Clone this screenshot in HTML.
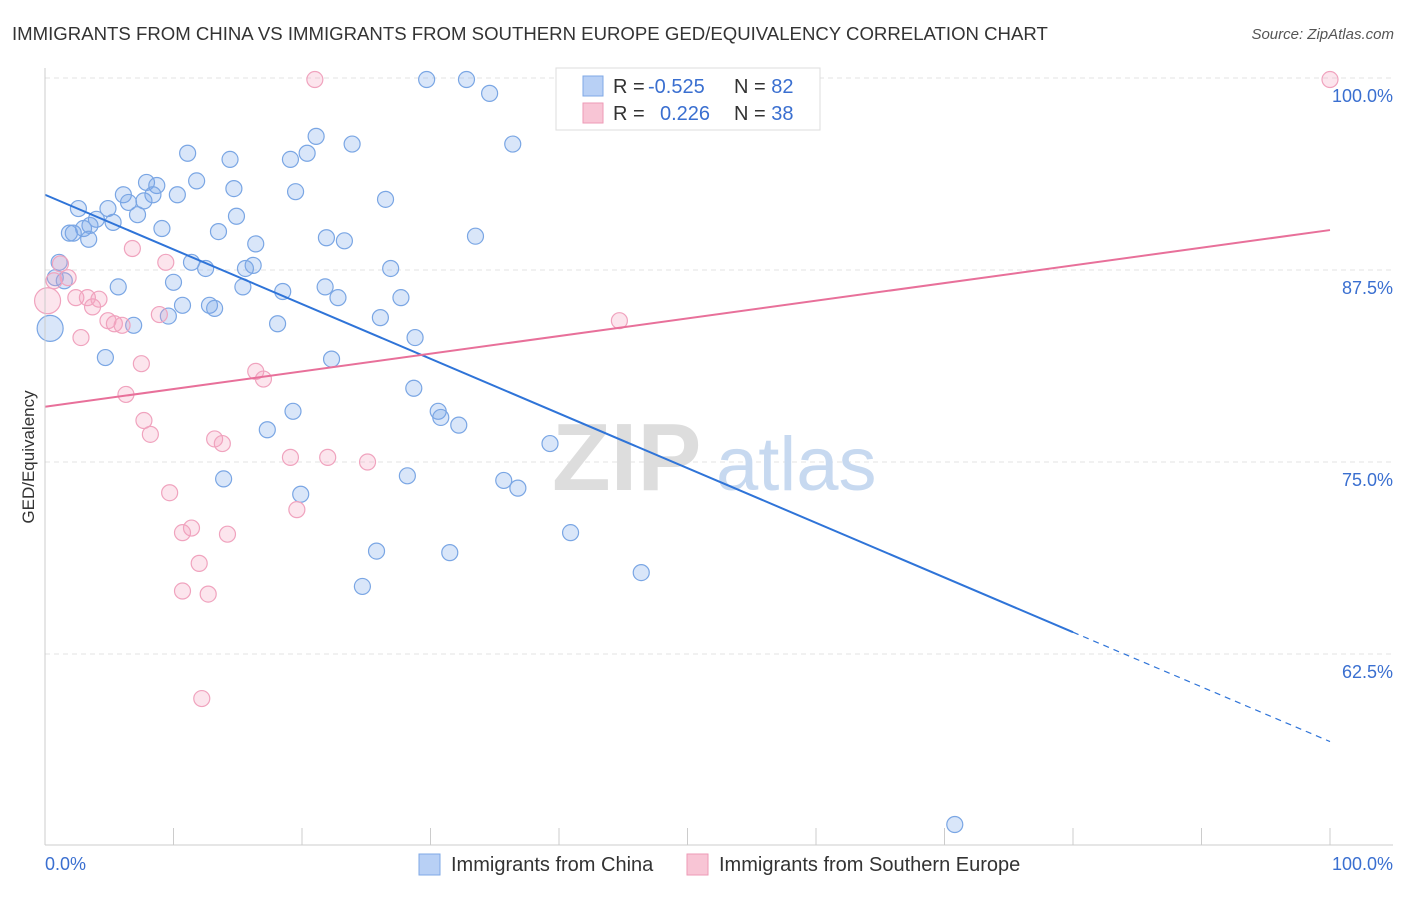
<!DOCTYPE html>
<html><head><meta charset="utf-8"><style>
body{margin:0;background:#fff;font-family:"Liberation Sans",sans-serif;}
svg text{font-family:"Liberation Sans",sans-serif;}
</style></head><body>
<svg id="chart" width="1406" height="892" xmlns="http://www.w3.org/2000/svg">
<text x="12" y="40" font-size="18.6" fill="#333">IMMIGRANTS FROM CHINA VS IMMIGRANTS FROM SOUTHERN EUROPE GED/EQUIVALENCY CORRELATION CHART</text>
<text x="1394" y="39" font-size="15" fill="#555" font-style="italic" text-anchor="end">Source: ZipAtlas.com</text>
<g id="grid"></g>
<g>
<text x="552" y="490" font-size="96" font-family="Liberation Serif" fill="#ddd" font-weight="bold">ZIP</text>
<text x="716" y="490" font-size="76" fill="#c7d9f0">atlas</text>
</g>
<text transform="translate(34,457) rotate(-90)" font-size="17" fill="#333" text-anchor="middle">GED/Equivalency</text>
<g id="pts"></g>
<g id="lines"></g>
<g id="ticks"></g>
<g>
<rect x="556" y="68" width="264" height="62" fill="#fff" stroke="#ddd"/>
<rect x="583" y="76" width="20" height="20" fill="#b8d0f5" stroke="#7fa8e6"/>
<rect x="583" y="103" width="20" height="20" fill="#f8c5d5" stroke="#ee9ab6"/>
<text x="613" y="93" font-size="20" fill="#333">R = <tspan x="648" fill="#3a6fd0">-0.525</tspan><tspan x="734">N = </tspan><tspan fill="#3a6fd0">82</tspan></text>
<text x="613" y="120" font-size="20" fill="#333">R = <tspan x="660" fill="#3a6fd0">0.226</tspan><tspan x="734">N = </tspan><tspan fill="#3a6fd0">38</tspan></text>
</g>
<g>
<rect x="419" y="854" width="21" height="21" fill="#b8d0f5" stroke="#7fa8e6"/>
<text x="451" y="871" font-size="20" fill="#333">Immigrants from China</text>
<rect x="687" y="854" width="21" height="21" fill="#f8c5d5" stroke="#ee9ab6"/>
<text x="719" y="871" font-size="20" fill="#333">Immigrants from Southern Europe</text>
</g>
<text x="45" y="870" font-size="18" fill="#3a6fd0">0.0%</text>
<text x="1393" y="870" font-size="18" fill="#3a6fd0" text-anchor="end">100.0%</text>
</svg>
<script>
const chinaX=[29.7,32.8,34.6,36.4,23.9,21.1,20.4,19.1,11.1,14.4,7.9,8.7,11.8,14.7,19.5,26.5,6.1,8.4,10.3,7.7,6.5,2.6,4.9,7.2,14.9,4.0,5.3,3.5,3.0,1.9,2.2,9.1,13.5,21.9,23.3,33.5,3.4,16.4,11.4,12.5,16.2,15.6,26.9,1.1,0.8,1.5,10.0,5.7,15.4,18.5,21.8,22.8,27.7,10.7,12.8,13.2,9.6,26.1,18.1,6.9,0.4,28.8,4.7,22.3,28.7,19.3,30.6,30.8,32.2,17.3,39.3,28.2,13.9,35.7,36.8,19.9,40.9,25.8,31.5,46.4,24.7,70.8];
const chinaY=[99.9,99.9,99.0,95.7,95.7,96.2,95.1,94.7,95.1,94.7,93.2,93.0,93.3,92.8,92.6,92.1,92.4,92.4,92.4,92.0,91.9,91.5,91.5,91.1,91.0,90.8,90.6,90.4,90.2,89.9,89.9,90.2,90.0,89.6,89.4,89.7,89.5,89.2,88.0,87.6,87.8,87.6,87.6,88.0,87.0,86.8,86.7,86.4,86.4,86.1,86.4,85.7,85.7,85.2,85.2,85.0,84.5,84.4,84.0,83.9,83.7,83.1,81.8,81.7,79.8,78.3,78.3,77.9,77.4,77.1,76.2,74.1,73.9,73.8,73.3,72.9,70.4,69.2,69.1,67.8,66.9,51.4];
const seX=[21.0,100,1.2,1.8,0.7,0.2,2.4,3.3,4.2,3.7,4.9,5.4,6.0,6.8,9.4,2.8,8.9,7.5,44.7,16.4,17.0,6.3,7.7,8.2,13.2,13.8,19.1,22.0,25.1,9.7,11.4,10.7,14.2,19.6,12.0,10.7,12.7,12.2];
const seY=[99.9,99.9,87.9,87.0,86.8,85.5,85.7,85.7,85.6,85.1,84.2,84.0,83.9,88.9,88.0,83.1,84.6,81.4,84.2,80.9,80.4,79.4,77.7,76.8,76.5,76.2,75.3,75.3,75.0,73.0,70.7,70.4,70.3,71.9,68.4,66.6,66.4,59.6];
const yTicks=[100,87.5,75,62.5];
const yTickLabels=["100.0%","87.5%","75.0%","62.5%"];
const xTicks=[0,10,20,30,40,50,60,70,80,90,100];
const chinaTrend=[92.4,-0.356];
const seTrend=[78.6,0.115];
const chinaSolidEnd=80;

const NS="http://www.w3.org/2000/svg";
const X=v=>45+v*12.85;
const Y=v=>78+(100-v)*15.36;
function mk(tag,attrs,parent){const e=document.createElementNS(NS,tag);for(const k in attrs)e.setAttribute(k,attrs[k]);parent.appendChild(e);return e;}
const grid=document.getElementById('grid');
yTicks.forEach((t,i)=>{
 const l=mk('line',{x1:45,x2:1393,y1:Y(t),y2:Y(t),stroke:'#e3e3e3','stroke-dasharray':'5,4'},grid);
 
 
 const tx=mk('text',{x:1393,y:Y(t)+24,'font-size':18,fill:'#3a6fd0','text-anchor':'end'},grid);
 tx.textContent=yTickLabels[i];
 
 
});
const ticks=document.getElementById('ticks');
mk('line',{x1:45,x2:45,y1:68,y2:845,stroke:'#ccc'},ticks);
mk('line',{x1:45,x2:1393,y1:845,y2:845,stroke:'#ccc'},ticks);
xTicks.forEach(t=>{
 const l=mk('line',{x1:X(t),x2:X(t),y1:828,y2:845,stroke:'#ccc'},ticks);
 
 
});
const pts=document.getElementById('pts');
chinaX.forEach((x,i)=>{
 const big=(x<0.5&&chinaY[i]<84);
 const c=mk('circle',{cx:X(x),cy:Y(chinaY[i]),r:big?13:8,fill:'rgba(120,165,235,0.28)',stroke:'#7aa6e4','stroke-width':1.2},pts);
 
 
});
seX.forEach((x,i)=>{
 const big=(x<0.3);
 const c=mk('circle',{cx:X(x),cy:Y(seY[i]),r:big?13:8,fill:'rgba(245,160,190,0.28)',stroke:'#f0a3be','stroke-width':1.2},pts);
 
 
});
const lines=document.getElementById('lines');
const cf=x=>chinaTrend[0]+chinaTrend[1]*x, sf=x=>seTrend[0]+seTrend[1]*x;
let l1=mk('line',{x1:X(0),y1:Y(cf(0)),x2:X(chinaSolidEnd),y2:Y(cf(chinaSolidEnd)),stroke:'#2f74d8','stroke-width':2},lines);


let l2=mk('line',{x1:X(chinaSolidEnd),y1:Y(cf(chinaSolidEnd)),x2:X(100),y2:Y(cf(100)),stroke:'#2f74d8','stroke-width':1.2,'stroke-dasharray':'6,5'},lines);


let l3=mk('line',{x1:X(0),y1:Y(sf(0)),x2:X(100),y2:Y(sf(100)),stroke:'#e8709a','stroke-width':2},lines);


</script>
</body></html>
